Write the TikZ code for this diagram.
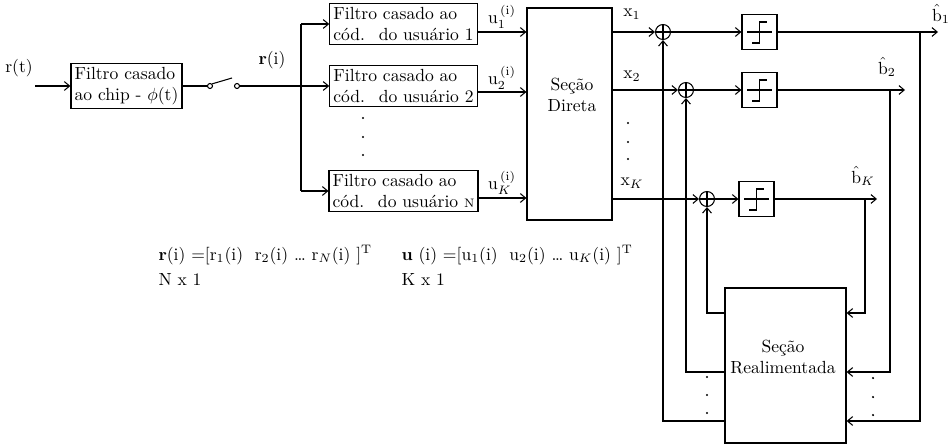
\documentclass[tikz,border=0pt]{standalone}
\usepackage{amsmath,amssymb}
\usepackage{tikz}
\usetikzlibrary{positioning,arrows.meta,calc}

\begin{document}
\begin{tikzpicture}[
    x=0.02cm, y=-0.02cm,
    line width=0.6pt,
    >={Straight Barb[length=3pt,width=5pt]},
    lbl/.style={inner sep=0pt},
    blk/.style={draw, line width=0.7pt, align=left, inner sep=2pt},
    sumnode/.style={draw, circle, minimum size=0.3cm, inner sep=0pt,
      path picture={\draw (path picture bounding box.north) -- (path picture bounding box.south)
        (path picture bounding box.west) -- (path picture bounding box.east);}},
    slicer/.style={draw, line width=0.7pt, minimum size=0.7cm, inner sep=0pt},
    swnode/.style={draw, circle, minimum size=0.1cm, inner sep=0pt}
  ]
  \useasboundingbox (0,0) rectangle (949,446);

  % chip filter and switch
  \node[lbl] (rt) at (19,68) {r(t)};
  \coordinate (in) at (35,86);
  \node[blk, minimum width=2.22cm, minimum height=0.9cm] (chip) at (126.5,86) {Filtro casado\\ao chip - $\phi$(t)};
  \draw[->] (in) -- (chip);
  \node[swnode] (sw1) at (210,86) {};
  \node[swnode] (sw2) at (237,86) {};
  \coordinate (blade) at (232,78);
  \draw (chip) -- (sw1);
  \draw (sw1.north east) -- (blade);
  \node[lbl] (ri) at (272,60) {\textbf{r}(i)};
  \coordinate (bus) at (301,86);

  % code matched filters
  \node[blk, minimum width=2.86cm, minimum height=0.76cm] (f1) at (403.5,24) {Filtro casado ao\\ cód.~ do usuário 1};
  \node[blk, minimum width=2.86cm, minimum height=0.76cm] (f2) at (403.5,86) {Filtro casado ao\\ cód.~ do usuário 2};
  \node[blk, minimum width=2.86cm, minimum height=0.76cm] (f3) at (403.5,191) {Filtro casado ao\\ cód.~ do usuário {\scriptsize N}};
  \draw (bus |- f1) -- (bus |- f3);
  \draw[->] (sw2) -- (f2);
  \draw[->] (bus |- f1) -- (f1);
  \draw[->] (bus |- f3) -- (f3);
  \fill (363,118) circle (0.7pt) (363,137) circle (0.7pt) (363,155) circle (0.7pt);

  % direct section
  \node[blk, minimum width=1.7cm, minimum height=4.24cm] (dir) at (569.5,114) {};
  \node[lbl, align=center] (dirtxt) at (572,95) {Seção\\Direta};
  \coordinate (u1) at ($(f1.east)+(0,8)$);
  \coordinate (u2) at ($(f2.east)+(0,6)$);
  \coordinate (uK) at ($(f3.east)+(0,7)$);
  \draw[->] (u1) -- (u1 -| dir.west);
  \draw[->] (u2) -- (u2 -| dir.west);
  \draw[->] (uK) -- (uK -| dir.west);
  \node[lbl] (u1lbl) at (502,17) {u$_{1}^{\,(\mathrm{i})}$};
  \node[lbl] (u2lbl) at (502,78) {u$_{2}^{\,(\mathrm{i})}$};
  \node[lbl] (uKlbl) at (502,183) {u$_{K}^{\,(\mathrm{i})}$};

  % adders and decision devices
  \node[sumnode] (s1) at (663,32) {};
  \node[sumnode] (s2) at (686,90) {};
  \node[sumnode] (sK) at (707,199) {};
  \draw[->] (dir.east |- s1) -- (s1);
  \draw[->] (dir.east |- s2) -- (s2);
  \draw[->] (dir.east |- sK) -- (sK);
  \node[lbl] (x1lbl) at (632,14) {x$_1$};
  \node[lbl] (x2lbl) at (632,76) {x$_2$};
  \node[lbl] (xKlbl) at (632,183) {x$_K$};
  \fill (628,123) circle (0.7pt) (628,142) circle (0.7pt) (628,159) circle (0.7pt);

  \node[slicer] (q1) at (759.5,32) {};
  \node[slicer] (q2) at (759.5,90) {};
  \node[slicer] (qK) at (756.5,199) {};
  \draw[->] (s1) -- (q1);
  \draw[->] (s2) -- (q2);
  \draw[->] (sK) -- (qK);
  \draw ($(q1)+(-12.5,0)$) -- ($(q1)+(12.5,0)$);
  \draw ($(q1)+(-7.5,11)$) -- ($(q1)+(0,11)$) -- ($(q1)+(0,-10)$) -- ($(q1)+(7.5,-10)$);
  \draw ($(q2)+(-12.5,0)$) -- ($(q2)+(12.5,0)$);
  \draw ($(q2)+(-7.5,11)$) -- ($(q2)+(0,11)$) -- ($(q2)+(0,-10)$) -- ($(q2)+(7.5,-10)$);
  \draw ($(qK)+(-12.5,0)$) -- ($(qK)+(12.5,0)$);
  \draw ($(qK)+(-7.5,11)$) -- ($(qK)+(0,11)$) -- ($(qK)+(0,-10)$) -- ($(qK)+(7.5,-10)$);

  % decisions
  \coordinate (o1) at (938,32);
  \coordinate (o2) at (905,90);
  \coordinate (oK) at (877,199);
  \draw[->] (q1) -- (o1);
  \draw[->] (q2) -- (o2);
  \draw[->] (qK) -- (oK);
  \node[lbl] (b1lbl) at (941,14) {$\hat{\mathrm{b}}_1$};
  \node[lbl] (b2lbl) at (887,67) {$\hat{\mathrm{b}}_2$};
  \node[lbl] (bKlbl) at (863,176) {$\hat{\mathrm{b}}_K$};

  % feedback section
  \node[blk, minimum width=2.42cm, minimum height=3.1cm] (fb) at (785.5,365.5) {};
  \node[lbl, align=center] (fbtxt) at (783,357) {Seção\\Realimentada};
  \coordinate (t1) at (920,32);
  \coordinate (t2) at (890,90);
  \coordinate (tK) at (865,199);
  \coordinate (fb1in) at ($(fb.east)+(0,55.5)$);
  \coordinate (fb2in) at ($(fb.east)+(0,6.5)$);
  \coordinate (fbKin) at ($(fb.east)+(0,-52.5)$);
  \draw[->] (t1) |- (fb1in);
  \draw[->] (t2) |- (fb2in);
  \draw[->] (tK) |- (fbKin);
  \coordinate (fb1out) at ($(fb.west)+(0,55.5)$);
  \coordinate (fb2out) at ($(fb.west)+(0,6.5)$);
  \coordinate (fbKout) at ($(fb.west)+(0,-52.5)$);
  \draw[->] (fb1out) -| (s1);
  \draw[->] (fb2out) -| (s2);
  \draw[->] (fbKout) -| (sK);
  \fill (707,377) circle (0.7pt) (707,395) circle (0.7pt) (707,413) circle (0.7pt);
  \fill (873,378) circle (0.7pt) (873,397) circle (0.7pt) (873,415) circle (0.7pt);

  % vectors
  \node[lbl, anchor=west] (rvec) at (158,255) {\textbf{r}(i) =[r$_1$(i)~ r$_2$(i) \dots\ r$_N$(i) ]$^{\mathrm{T}}$};
  \node[lbl, anchor=west] (rdim) at (158,279) {N x 1};
  \node[lbl, anchor=west] (uvec) at (401,255) {\textbf{u} (i) =[u$_1$(i)~ u$_2$(i) \dots\ u$_K$(i) ]$^{\mathrm{T}}$};
  \node[lbl, anchor=west] (udim) at (401,279) {K x 1};
\end{tikzpicture}
\end{document}
